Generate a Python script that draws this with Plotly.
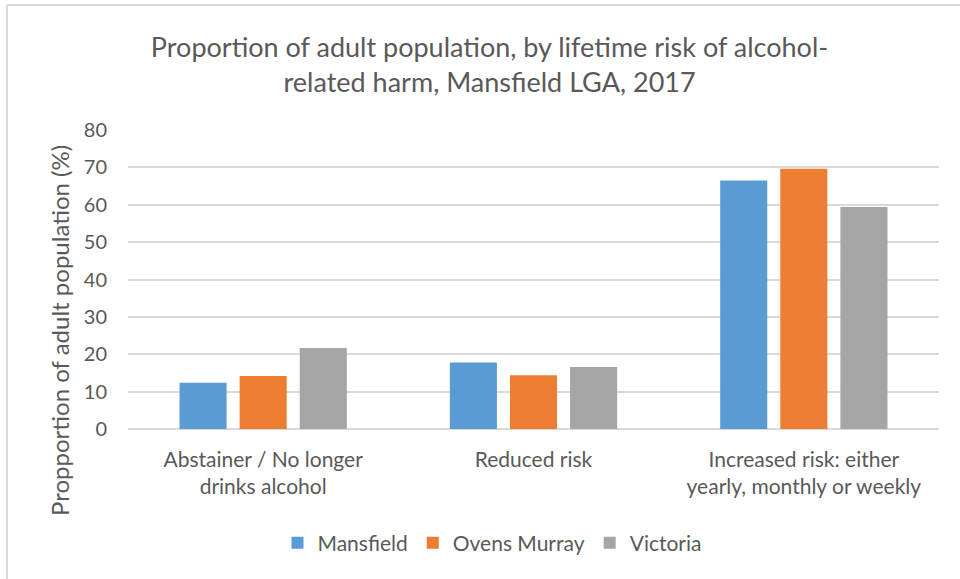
import plotly.graph_objects as go

categories = ["Abstainer / No longer<br>drinks alcohol", "Reduced risk",
              "Increased risk: either<br>yearly, monthly or weekly"]
series_names = ["Mansfield", "Ovens Murray", "Victoria"]
mansfield = [12.4, 17.8, 66.5]
ovens_murray = [14.2, 14.4, 69.6]
victoria = [21.7, 16.6, 59.4]
colors = ["#5B9BD5", "#ED7D31", "#A5A5A5"]
y_ticks = [0, 10, 20, 30, 40, 50, 60, 70, 80]

title_text = "Proportion of adult population, by lifetime risk of alcohol-<br>related harm, Mansfield LGA, 2017"
y_title = "Propportion of adult population (%)"

FONT = "Lato"
TXT = "#595959"

fig = go.Figure()
for name, vals, col in zip(series_names, [mansfield, ovens_murray, victoria], colors):
    fig.add_trace(go.Bar(x=categories, y=vals, name=name, marker=dict(color=col, line=dict(width=0))))

W, H = 960, 579
L, R, T, B = 128, 21, 130, 150
pw, ph = W - L - R, H - T - B

def px_x(p):
    return (p - L) / pw

def px_y(p):
    return (H - B - p) / ph

fig.update_layout(
    width=W, height=H,
    margin=dict(l=L, r=R, t=T, b=B, pad=0),
    paper_bgcolor="white", plot_bgcolor="white",
    font=dict(family=FONT, color=TXT, size=21),
    barmode="group", bargap=0.333, bargroupgap=0.217,
    title=dict(text=title_text, x=0.51, xanchor="center", y=1 - 57 / H, yanchor="middle",
               font=dict(size=27, color=TXT, family=FONT)),
    showlegend=True,
    legend=dict(orientation="h", x=px_x(492), xanchor="center", y=px_y(543), yanchor="middle",
                font=dict(size=21, color=TXT), itemwidth=30, traceorder="normal"),
    xaxis=dict(showgrid=False, showline=False, ticks="", tickfont=dict(size=21, color=TXT),
               ticklabelstandoff=16),
    yaxis=dict(range=[0, 80], tickvals=y_ticks, showgrid=True, gridcolor="#D9D9D9", gridwidth=1.5,
               zeroline=True, zerolinecolor="#D9D9D9", zerolinewidth=1.5, showline=False, ticks="",
               tickfont=dict(size=20, color=TXT), ticklabelstandoff=20),
    annotations=[dict(text=y_title, textangle=-90, xref="paper", yref="paper",
                      x=px_x(59), y=px_y(331), xanchor="center", yanchor="middle", showarrow=False,
                      font=dict(size=24, color=TXT, family=FONT))],
    shapes=[
        dict(type="line", xref="paper", yref="paper", x0=px_x(7), x1=px_x(W + 5), y0=px_y(5), y1=px_y(5),
             line=dict(color="#D9D9D9", width=2)),
        dict(type="line", xref="paper", yref="paper", x0=px_x(7), x1=px_x(7), y0=px_y(5), y1=px_y(H + 5),
             line=dict(color="#D9D9D9", width=2)),
    ],
)

fig.write_html("out.html")
